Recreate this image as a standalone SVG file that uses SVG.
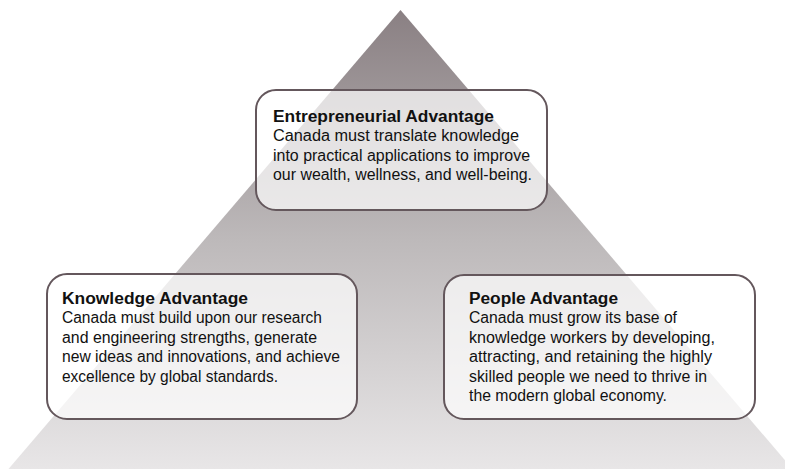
<svg xmlns="http://www.w3.org/2000/svg" width="785" height="469" viewBox="0 0 785 469">
<defs>
<linearGradient id="pyr" gradientUnits="userSpaceOnUse" x1="0" y1="10" x2="0" y2="469">
<stop offset="0" stop-color="#8a8083"/>
<stop offset="0.5" stop-color="#bdb9ba"/>
<stop offset="1" stop-color="#e8e6e7"/>
</linearGradient>
<style>
.box{fill:#ffffff;fill-opacity:0.7;stroke:#64575c;stroke-width:2}
.t{font-family:"Liberation Sans",Arial,sans-serif;font-size:16px;fill:#111111}
.h{font-weight:bold}
</style>
</defs>
<rect width="785" height="469" fill="#ffffff"/>
<polygon points="400.5,10 792.5,469 8.5,469" fill="url(#pyr)"/>
<g id="connectors"></g>
<g id="entrepreneurial">
<rect class="box" x="256" y="90" width="291" height="120" rx="20"/>
<text class="t h" x="273" y="122" textLength="221" lengthAdjust="spacingAndGlyphs">Entrepreneurial Advantage</text>
<text class="t" x="273" y="141.4" textLength="246" lengthAdjust="spacingAndGlyphs">Canada must translate knowledge</text>
<text class="t" x="273" y="160.8" textLength="257" lengthAdjust="spacingAndGlyphs">into practical applications to improve</text>
<text class="t" x="273" y="180.2" textLength="259" lengthAdjust="spacingAndGlyphs">our wealth, wellness, and well-being.</text>
</g>
<g id="knowledge">
<rect class="box" x="47" y="274" width="310" height="145" rx="20"/>
<text class="t h" x="62" y="304" textLength="186" lengthAdjust="spacingAndGlyphs">Knowledge Advantage</text>
<text class="t" x="62" y="323.4" textLength="260" lengthAdjust="spacingAndGlyphs">Canada must build upon our research</text>
<text class="t" x="62" y="342.8" textLength="255" lengthAdjust="spacingAndGlyphs">and engineering strengths, generate</text>
<text class="t" x="62" y="362.2" textLength="278" lengthAdjust="spacingAndGlyphs">new ideas and innovations, and achieve</text>
<text class="t" x="62" y="381.6" textLength="216" lengthAdjust="spacingAndGlyphs">excellence by global standards.</text>
</g>
<g id="people">
<rect class="box" x="444" y="275" width="311" height="144" rx="20"/>
<text class="t h" x="469" y="304" textLength="149" lengthAdjust="spacingAndGlyphs">People Advantage</text>
<text class="t" x="469" y="323.4" textLength="208" lengthAdjust="spacingAndGlyphs">Canada must grow its base of</text>
<text class="t" x="469" y="342.8" textLength="246" lengthAdjust="spacingAndGlyphs">knowledge workers by developing,</text>
<text class="t" x="469" y="362.2" textLength="243" lengthAdjust="spacingAndGlyphs">attracting, and retaining the highly</text>
<text class="t" x="469" y="381.6" textLength="238" lengthAdjust="spacingAndGlyphs">skilled people we need to thrive in</text>
<text class="t" x="469" y="401" textLength="198" lengthAdjust="spacingAndGlyphs">the modern global economy.</text>
</g>
</svg>
